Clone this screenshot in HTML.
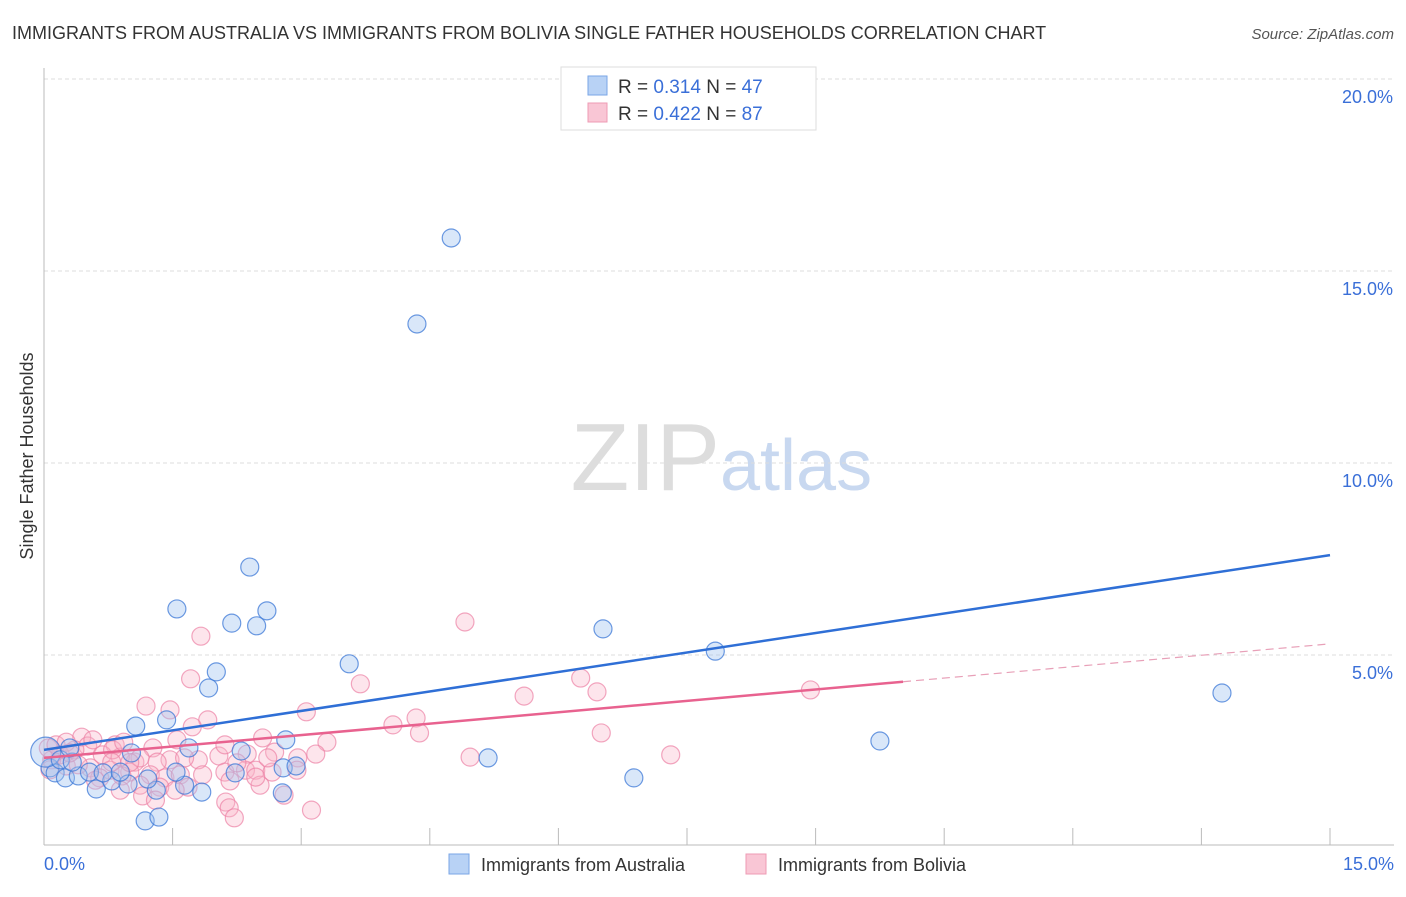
<!DOCTYPE html>
<html><head><meta charset="utf-8"><style>
body{margin:0;background:#fff;font-family:"Liberation Sans",sans-serif;}
svg text{font-family:"Liberation Sans",sans-serif;}
</style></head><body>
<svg width="1406" height="892">
<text x="12" y="39" font-size="18" fill="#333">IMMIGRANTS FROM AUSTRALIA VS IMMIGRANTS FROM BOLIVIA SINGLE FATHER HOUSEHOLDS CORRELATION CHART</text>
<text x="1394" y="39" font-size="15" fill="#555" font-style="italic" text-anchor="end">Source: ZipAtlas.com</text>
<text x="720" y="490" font-size="96" fill="#ddd" font-family="Liberation Serif" text-anchor="end">ZIP</text>
<text x="720" y="490" font-size="72" fill="#c8d8f0">atlas</text>
<g id="grid"></g>
<line x1="44" y1="68" x2="44" y2="845" stroke="#bbb"/>
<line x1="44" y1="845" x2="1394" y2="845" stroke="#bbb"/>
<text x="33" y="456" font-size="18" fill="#333" text-anchor="middle" transform="rotate(-90 33 456)">Single Father Households</text>
<text x="44" y="870" font-size="18" fill="#3a6fd8">0.0%</text>
<text x="1394" y="870" font-size="18" fill="#3a6fd8" text-anchor="end">15.0%</text>
<g id="pts"></g>
<g id="lines"></g>
<g>
<rect x="561" y="67" width="255" height="63" fill="#fff" stroke="#ddd"/>
<rect x="588" y="76" width="19" height="19" fill="#b8d2f5" stroke="#7aa6e6"/>
<rect x="588" y="103" width="19" height="19" fill="#f9c6d5" stroke="#ee9bb4"/>
<text x="618" y="93" font-size="19" fill="#333">R = <tspan fill="#3a6fd8">0.314</tspan>   N = <tspan fill="#3a6fd8">47</tspan></text>
<text x="618" y="120" font-size="19" fill="#333">R = <tspan fill="#3a6fd8">0.422</tspan>   N = <tspan fill="#3a6fd8">87</tspan></text>
</g>
<g>
<rect x="449" y="854" width="20" height="20" fill="#b8d2f5" stroke="#7aa6e6"/>
<text x="481" y="871" font-size="18" fill="#333">Immigrants from Australia</text>
<rect x="746" y="854" width="20" height="20" fill="#f9c6d5" stroke="#ee9bb4"/>
<text x="778" y="871" font-size="18" fill="#333">Immigrants from Bolivia</text>
</g>
</svg>
<script>
const yTicks=[5,10,15,20];
const xTickVals=[1.5,3,4.5,6,7.5,9,10.5,12,13.5,15];
const blueX=[4.75,4.35,2.40,1.55,2.60,2.19,2.48,6.52,7.83,3.56,2.01,1.92,13.74,1.43,1.07,1.69,2.30,2.82,9.75,5.18,1.02,2.79,2.94,2.23,6.88,1.64,1.84,2.78,1.31,1.18,1.34,0.61,0.79,0.98,0.07,0.13,0.25,0.40,0.53,0.69,0.89,1.21,1.54,0.02,0.19,0.33,0.30];
const blueY=[15.86,13.62,7.29,6.20,6.15,5.83,5.76,5.68,5.10,4.77,4.56,4.14,4.01,3.31,3.15,2.58,2.50,2.79,2.76,2.32,2.45,2.06,2.11,1.93,1.80,1.61,1.43,1.41,1.48,0.68,0.78,1.51,1.72,1.64,2.06,1.93,1.80,1.85,1.95,1.93,1.95,1.77,1.95,2.47,2.27,2.21,2.58];
const pinkX=[4.91,1.83,1.71,3.69,6.26,8.94,5.60,6.45,1.19,1.47,3.06,1.91,1.73,4.07,4.34,4.38,6.50,3.30,2.55,0.44,0.51,0.83,1.27,1.55,4.97,7.31,3.17,2.96,2.69,2.37,2.04,1.80,1.47,1.32,1.06,0.89,0.68,0.36,0.19,0.09,0.05,0.26,0.54,0.77,1.00,1.24,1.41,1.59,1.85,2.11,2.35,2.47,2.66,2.95,0.65,0.91,1.12,1.35,1.68,2.17,2.52,2.80,1.15,1.30,2.12,2.16,2.22,3.12,0.14,0.26,0.57,0.80,0.93,1.12,1.64,2.11,2.25,2.61,0.07,0.40,0.79,1.53,2.47,0.60,0.89,0.3,1.0];
const pinkY=[5.86,5.49,4.38,4.25,4.40,4.09,3.93,4.04,3.67,3.57,3.52,3.31,3.13,3.18,3.36,2.97,2.97,2.73,2.84,2.86,2.63,2.66,2.58,2.79,2.34,2.40,2.42,2.32,2.47,2.42,2.37,2.27,2.27,2.21,2.21,2.34,2.40,2.53,2.40,2.27,2.58,2.11,2.06,2.00,1.95,1.88,1.80,1.88,1.88,1.95,2.00,2.00,1.95,2.00,1.80,1.85,1.61,1.56,1.56,1.72,1.61,1.35,1.33,1.22,1.17,1.02,0.76,0.96,2.66,2.73,2.79,2.53,2.73,2.32,2.32,2.66,2.19,2.32,2.01,2.14,2.21,1.48,1.82,1.74,1.48,2.45,2.2];
const blueLine=[2.53,7.60];
const pinkLine=[2.32,5.29];
const pinkSolidEnd=10.02;
const X=v=>44+v/15*1286, Y=v=>847-v*38.4;
const NS="http://www.w3.org/2000/svg";
const g=document.getElementById('grid');
yTicks.forEach(t=>{
 const l=document.createElementNS(NS,'line');
 l.setAttribute('x1',44);l.setAttribute('x2',1394);l.setAttribute('y1',Y(t));l.setAttribute('y2',Y(t));
 l.setAttribute('stroke','#ddd');l.setAttribute('stroke-dasharray','4,3');
 
 
 g.appendChild(l);
 const tx=document.createElementNS(NS,'text');
 tx.setAttribute('x',1393);tx.setAttribute('y',Y(t)+24);tx.setAttribute('font-size','18');tx.setAttribute('fill','#3a6fd8');tx.setAttribute('text-anchor','end');
 tx.textContent=t.toFixed(1)+'%';
 
 
 g.appendChild(tx);
});
xTickVals.forEach(t=>{
 const l=document.createElementNS(NS,'line');
 l.setAttribute('x1',X(t));l.setAttribute('x2',X(t));l.setAttribute('y1',828);l.setAttribute('y2',845);l.setAttribute('stroke','#bbb');
 
 
 g.appendChild(l);
});
const p=document.getElementById('pts');
function dot(x,y,r,fill,stroke,name){
 const c=document.createElementNS(NS,'circle');
 c.setAttribute('cx',X(x));c.setAttribute('cy',Y(y));c.setAttribute('r',r);
 c.setAttribute('fill',fill);c.setAttribute('stroke',stroke);c.setAttribute('stroke-width','1.2');
 
 
 p.appendChild(c);
}
pinkX.forEach((x,i)=>dot(x,pinkY[i],9,'rgba(248,180,200,0.35)','rgba(236,130,165,0.7)','bolivia-point'));
blueX.forEach((x,i)=>dot(x,blueY[i],i===43?15:9,'rgba(160,195,240,0.4)','rgba(60,120,215,0.75)','australia-point'));
const L=document.getElementById('lines');
function line(x1,y1,x2,y2,color,dash,name){
 const l=document.createElementNS(NS,'line');
 l.setAttribute('x1',X(x1));l.setAttribute('y1',Y(y1));l.setAttribute('x2',X(x2));l.setAttribute('y2',Y(y2));
 l.setAttribute('stroke',color);l.setAttribute('stroke-width',dash?1.2:2.5);
 if(dash)l.setAttribute('stroke-dasharray','8,5');
 
 
 L.appendChild(l);
}
const pAt=v=>pinkLine[0]+(pinkLine[1]-pinkLine[0])*v/15;
line(0,blueLine[0],15,blueLine[1],'#2f6fd6',false,'australia-trendline');
line(0,pinkLine[0],pinkSolidEnd,pAt(pinkSolidEnd),'#e8628f',false,'bolivia-trendline');
line(pinkSolidEnd,pAt(pinkSolidEnd),15,pinkLine[1],'#e8a0b8',true,'bolivia-trendline-extension');
</script>
</body></html>
